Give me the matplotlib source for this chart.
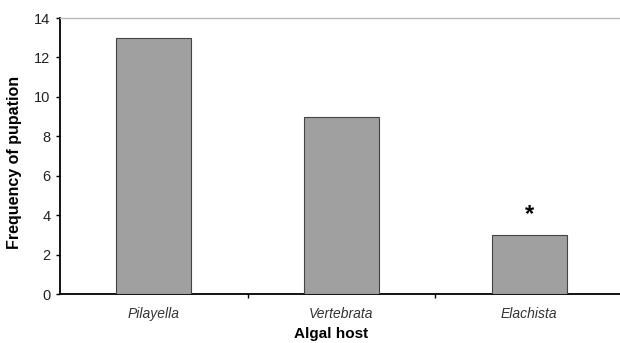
import matplotlib
matplotlib.use("Agg")
import matplotlib.pyplot as plt
import numpy as np

categories = ["Pilayella", "Vertebrata", "Elachista"]
values = [13, 9, 3]
yticks = [0, 2, 4, 6, 8, 10, 12, 14]

plt.rcParams['font.family'] = ['Liberation Sans', 'DejaVu Sans']

fig = plt.figure(figsize=(6.2, 3.43), dpi=100)
ax = fig.add_axes([60/620, 1 - 294/343, 563/620, (294-18)/343])

x = np.arange(len(categories))
ax.bar(x, values, width=0.4, color="#a0a0a0", edgecolor="#444444", linewidth=0.8, zorder=3)

ax.set_xlim(-0.5, 2.5)
ax.set_ylim(0, 14)
ax.set_yticks(yticks)
ax.set_yticklabels([str(t) for t in yticks], fontsize=10.5, color="#222222")

ax.set_xticks([0.5, 1.5])
ax.set_xticklabels([])
ax.tick_params(axis='x', direction='out', length=3, width=1)
ax.tick_params(axis='y', direction='out', length=3, width=1, pad=4)
for xi, c in zip(x, categories):
    ax.text(xi, -0.65, c, ha='center', va='top', fontsize=10, style='italic', color="#333333")

ax.spines['right'].set_visible(False)
ax.spines['top'].set_color("#bbbbbb")
ax.spines['top'].set_linewidth(1)
ax.spines['left'].set_linewidth(1.3)
ax.spines['bottom'].set_linewidth(1.3)

ax.text(2, 3.45, "*", ha='center', va='bottom', fontsize=17, fontweight='bold')

ax.set_ylabel("Frequency of pupation", fontsize=11.5, fontweight='bold')
ax.yaxis.set_label_coords(-0.067, 0.475)
fig.text(331/620, 1 - 334/343, "Algal host", ha='center', va='center', fontsize=11, fontweight='bold')

fig.savefig("out.png", dpi=100)
